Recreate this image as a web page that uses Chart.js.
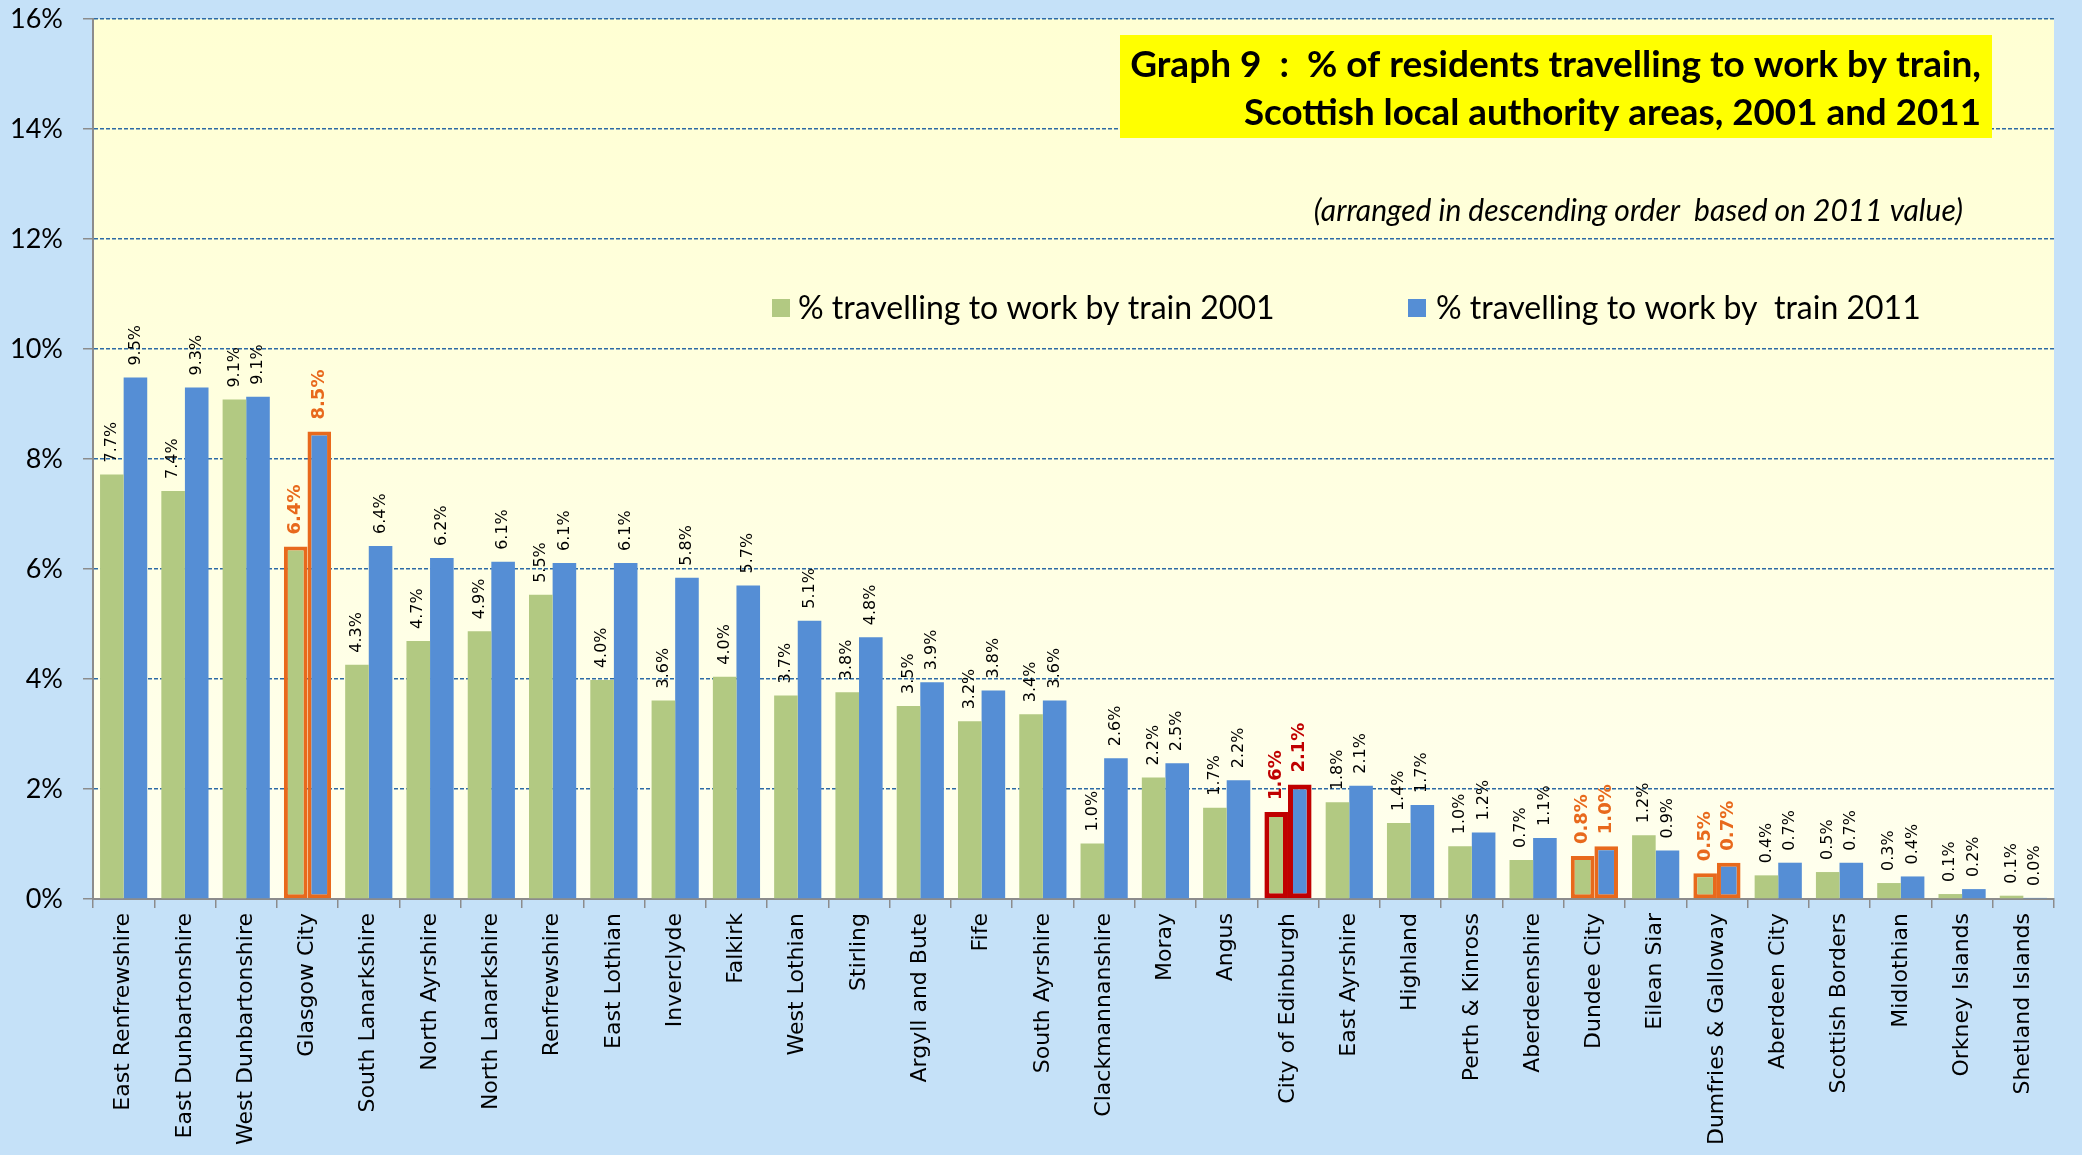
<!DOCTYPE html>
<html>
<head>
<meta charset="utf-8">
<script src="https://cdn.jsdelivr.net/npm/chart.js@4.4.1/dist/chart.umd.min.js"></script>
<style>
  html, body { margin: 0; padding: 0; background: #C5E1F8; }
  #wrap { width: 2082px; height: 1155px; }
</style>
</head>
<body>
<div id="wrap"><canvas id="chart" width="2082" height="1155"></canvas></div>
<script>
// Scottish local authority areas, arranged by 2011 value
const areas = [
  'East Renfrewshire', 'East Dunbartonshire', 'West Dunbartonshire', 'Glasgow City',
  'South Lanarkshire', 'North Ayrshire', 'North Lanarkshire', 'Renfrewshire',
  'East Lothian', 'Inverclyde', 'Falkirk', 'West Lothian', 'Stirling',
  'Argyll and Bute', 'Fife', 'South Ayrshire', 'Clackmannanshire', 'Moray',
  'Angus', 'City of Edinburgh', 'East Ayrshire', 'Highland', 'Perth & Kinross',
  'Aberdeenshire', 'Dundee City', 'Eilean Siar', 'Dumfries & Galloway',
  'Aberdeen City', 'Scottish Borders', 'Midlothian', 'Orkney Islands', 'Shetland Islands'
];

// % of residents travelling to work by train
const train2001 = [
  7.72, 7.42, 9.08, 6.41, 4.26, 4.69, 4.87, 5.53, 3.98, 3.61, 4.04, 3.70, 3.76,
  3.51, 3.23, 3.36, 1.01, 2.21, 1.66, 1.58, 1.76, 1.38, 0.96, 0.71, 0.78, 1.16,
  0.47, 0.43, 0.49, 0.29, 0.09, 0.06
];
const train2011 = [
  9.48, 9.30, 9.13, 8.50, 6.42, 6.20, 6.13, 6.11, 6.11, 5.84, 5.70, 5.06, 4.76,
  3.94, 3.79, 3.61, 2.56, 2.47, 2.16, 2.08, 2.06, 1.71, 1.21, 1.11, 0.96, 0.88,
  0.66, 0.66, 0.66, 0.41, 0.18, 0.02
];

const seriesNames = ['% travelling to work by train 2001', '% travelling to work by  train 2011'];
const titleLines = [
  'Graph 9  :  % of residents travelling to work by train,',
  'Scottish local authority areas, 2001 and 2011'
];
const subtitle = '(arranged in descending order  based on 2011 value)';

// areas boxed in the original, with their outline colour
const highlightColours = {
  'Glasgow City': '#E8691C',
  'City of Edinburgh': '#C00000',
  'Dundee City': '#E8691C',
  'Dumfries & Galloway': '#E8691C'
};

const GREEN = '#B2C982';
const BLUE = '#558ED5';

function outlineColour(ctx) {
  return highlightColours[areas[ctx.dataIndex]] || 'rgba(0,0,0,0)';
}
function outlineWidth(ctx) {
  const c = highlightColours[areas[ctx.dataIndex]];
  if (!c) return 0;
  return c === '#C00000' ? 5 : 4;
}

// light blue page, pale yellow plot area
const backgroundPlugin = {
  id: 'background',
  beforeDraw(chart) {
    const { ctx, chartArea: a } = chart;
    ctx.save();
    ctx.fillStyle = '#C5E1F8';
    ctx.fillRect(0, 0, chart.width, chart.height);
    const g = ctx.createLinearGradient(0, a.top, 0, a.bottom);
    g.addColorStop(0, '#FFFFD3');
    g.addColorStop(1, '#FFFFEE');
    ctx.fillStyle = g;
    ctx.fillRect(a.left, a.top, a.right - a.left, a.bottom - a.top);
    ctx.restore();
  }
};

// vertical value labels above every bar
const barLabelPlugin = {
  id: 'barLabels',
  afterDatasetsDraw(chart) {
    const ctx = chart.ctx;
    chart.data.datasets.forEach((ds, di) => {
      const meta = chart.getDatasetMeta(di);
      meta.data.forEach((bar, i) => {
        const hl = highlightColours[areas[i]];
        const text = ds.data[i].toFixed(1) + '%';
        ctx.save();
        ctx.translate(bar.x, bar.y - 12);
        ctx.rotate(-Math.PI / 2);
        ctx.font = hl ? 'bold 18px "DejaVu Sans"' : '16px "DejaVu Sans"';
        ctx.fillStyle = hl || '#000';
        ctx.textAlign = 'left';
        ctx.textBaseline = 'middle';
        ctx.fillText(text, 0, 0);
        ctx.restore();
      });
    });
  }
};

// title box, subtitle and legend inside the plot
const annotationPlugin = {
  id: 'annotations',
  afterDraw(chart) {
    const ctx = chart.ctx;
    ctx.save();
    ctx.fillStyle = '#FFFF00';
    ctx.fillRect(1120, 35, 872, 103);
    ctx.fillStyle = '#000';
    ctx.textAlign = 'right';
    ctx.textBaseline = 'middle';
    ctx.font = 'bold 37px Lato';
    ctx.fillText(titleLines[0], 1981, 65, 855);
    ctx.fillText(titleLines[1], 1981, 113, 737);

    ctx.font = 'italic 30px Lato';
    ctx.fillText(subtitle, 1963, 211, 658);

    // legend
    const items = [
      { x: 772, tx: 798, w: 481 },
      { x: 1408, tx: 1436, w: 490 }
    ];
    ctx.textAlign = 'left';
    ctx.font = '32px Lato';
    chart.data.datasets.forEach((ds, i) => {
      const it = items[i];
      ctx.fillStyle = ds.backgroundColor;
      ctx.fillRect(it.x, 299, 18, 18);
      ctx.fillStyle = '#000';
      ctx.fillText(ds.label, it.tx, 309, it.w);
    });
    ctx.restore();
  }
};

new Chart(document.getElementById('chart'), {
  type: 'bar',
  data: {
    labels: areas,
    datasets: [
      {
        label: seriesNames[0],
        data: train2001,
        backgroundColor: GREEN,
        borderColor: outlineColour,
        borderWidth: outlineWidth,
        borderSkipped: false
      },
      {
        label: seriesNames[1],
        data: train2011,
        backgroundColor: BLUE,
        borderColor: outlineColour,
        borderWidth: outlineWidth,
        borderSkipped: false
      }
    ]
  },
  options: {
    responsive: false,
    animation: false,
    devicePixelRatio: 1,
    categoryPercentage: 0.77,
    barPercentage: 1,
    layout: { padding: { top: 0, right: 28, left: 0, bottom: 0 } },
    plugins: {
      legend: { display: false },
      tooltip: { enabled: false }
    },
    scales: {
      x: {
        afterFit(scale) { scale.height = 256; },
        grid: {
          drawOnChartArea: false,
          color: '#8C8C8C',
          lineWidth: 1.5,
          tickLength: 9
        },
        border: { color: '#8C8C8C', width: 2 },
        ticks: {
          autoSkip: false,
          minRotation: 90,
          maxRotation: 90,
          padding: 5,
          color: '#000',
          font: { family: 'DejaVu Sans', size: 22 }
        }
      },
      y: {
        min: 0,
        max: 16,
        afterFit(scale) {
          scale.width = 93;
          scale.paddingTop = 19;
        },
        grid: {
          color: (c) => c.tick && c.tick.value === 0 ? 'rgba(0,0,0,0)' : '#2C6AA6',
          lineWidth: 1.5,
          tickColor: '#8C8C8C',
          tickLength: 10,
          tickWidth: 1.5
        },
        border: { color: '#8C8C8C', width: 2, dash: [4, 2] },
        ticks: {
          stepSize: 2,
          padding: 20,
          color: '#000',
          font: { family: 'Lato', size: 27 },
          callback: (v) => v + '%'
        }
      }
    }
  },
  plugins: [backgroundPlugin, barLabelPlugin, annotationPlugin]
});
</script>
</body>
</html>
